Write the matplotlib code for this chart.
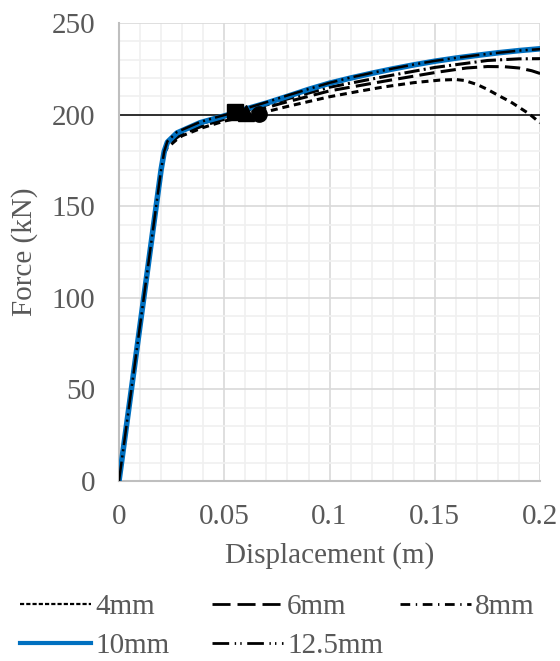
import matplotlib
matplotlib.use("Agg")
import matplotlib.pyplot as plt
from matplotlib.lines import Line2D

plt.rcParams['font.family'] = ['Liberation Serif', 'DejaVu Serif']
plt.rcParams['lines.scale_dashes'] = False

# data
x_10 = [0, 0.01, 0.02, 0.0215, 0.023, 0.0275, 0.0385, 0.0475, 0.055, 0.06, 0.07, 0.08, 0.09,
        0.1, 0.11, 0.12, 0.13, 0.14, 0.15, 0.16, 0.17, 0.18, 0.19, 0.2]
f_10 = [0, 85, 170, 180, 185, 190, 195.6, 198.5, 201, 203, 206.3, 210, 213.8,
        217.2, 220, 222.6, 225, 227.2, 229.2, 230.9, 232.4, 233.8, 235, 236]
f_125 = [0, 85, 170, 180, 185.5, 190.5, 196, 199, 201.3, 203.3, 206.8, 210.5, 214,
         217.4, 220.3, 222.8, 225.2, 227.4, 229.4, 231, 232.5, 233.8, 235, 235.8]

x_4 = [0, 0.01, 0.02, 0.0215, 0.023, 0.0275, 0.03, 0.04, 0.05, 0.06, 0.066, 0.08, 0.1,
       0.115, 0.126, 0.14, 0.1525, 0.16, 0.164, 0.17, 0.175, 0.18, 0.186, 0.195, 0.2]
f_4 = [0, 85, 170, 179, 182, 186.5, 188.5, 193, 196.5, 199, 200.5, 204.5, 209.8,
       213, 215.2, 217.5, 218.9, 219.2, 218.7, 216.5, 213.8, 210.6, 207, 200.3, 195.5]

x_6 = [0, 0.01, 0.02, 0.0215, 0.023, 0.0275, 0.03, 0.04, 0.05, 0.06, 0.0765, 0.1, 0.126,
       0.15, 0.165, 0.175, 0.183, 0.19, 0.196, 0.2]
f_6 = [0, 85, 170, 179.5, 183, 187.5, 189.5, 194, 197.5, 200.5, 206, 213, 218.3,
       223, 225.5, 226.3, 226.2, 225.5, 224, 222.5]

x_8 = [0, 0.01, 0.02, 0.0215, 0.023, 0.0275, 0.03, 0.04, 0.05, 0.06, 0.0765, 0.1, 0.126,
       0.15, 0.175, 0.19, 0.2]
f_8 = [0, 85, 170, 180, 184.5, 189.5, 191.5, 195.5, 198.7, 202, 207.5, 215, 220.8,
       225.8, 229.6, 230.5, 230.6]

# markers where the curves cross 200 kN
mark_x = [0.0551, 0.0605, 0.0665]
mark_f = [201.3, 201, 200.6]
mark_sym = ['s', '^', 'o']

x_ticks = [0, 0.05, 0.1, 0.15, 0.2]
x_labels = ['0', '0.05', '0.1', '0.15', '0.2']
y_ticks = [0, 50, 100, 150, 200, 250]

grey_txt = '#595959'
fs = 21

fig = plt.figure(figsize=(5.6, 6.61), dpi=100)
ax = fig.add_axes([0.2125, 0.2725, 0.752, 0.6925])

ax.set_xlim(0, 0.2)
ax.set_ylim(0, 250)
ax.set_xticks(x_ticks)
ax.set_xticklabels(x_labels)
ax.set_yticks(y_ticks)
ax.set_xticks([i * 0.01 for i in range(21)], minor=True)
ax.set_yticks(list(range(0, 251, 10)), minor=True)
ax.grid(which='minor', color='#f0f0f0', lw=1.2, zorder=0)
ax.grid(which='major', color='#d9d9d9', lw=1.2, zorder=0)
ax.tick_params(which='both', length=0, labelsize=fs, labelcolor=grey_txt)
ax.tick_params(axis='x', pad=17)
ax.tick_params(axis='y', pad=17)
for s in ['top', 'right']:
    ax.spines[s].set_visible(False)
for s in ['left', 'bottom']:
    ax.spines[s].set_color('#bfbfbf')
    ax.spines[s].set_linewidth(1.5)

ax.axhline(200, color='black', lw=1.1, zorder=2)

l4, = ax.plot(x_4, f_4, color='black', lw=2.2, dashes=(5, 3.5), zorder=3)
l6, = ax.plot(x_6, f_6, color='black', lw=2.2, dashes=(11, 4.5), zorder=3)
l8, = ax.plot(x_8, f_8, color='black', lw=2.2, dashes=(11, 3, 1.5, 3), zorder=3)
l10, = ax.plot(x_10, f_10, color='#0070c0', lw=4.0, zorder=4)
l125, = ax.plot(x_10, f_125, color='black', lw=1.8, dashes=(14, 3, 1.5, 3, 1.5, 3), zorder=5)

for mx, mf, ms in zip(mark_x, mark_f, mark_sym):
    ax.plot(mx, mf, marker=ms, color='black', markersize=11, zorder=6, ls='none')

ax.set_xlabel('Displacement (m)', fontsize=fs, color=grey_txt, labelpad=8)
ax.set_ylabel('Force (kN)', fontsize=fs, color=grey_txt, labelpad=10)

h4 = Line2D([], [], color='black', lw=1.6, dashes=(3, 1.5))
h6 = Line2D([], [], color='black', lw=2.0, dashes=(13, 5))
h8 = Line2D([], [], color='black', lw=2.0, dashes=(7, 4, 1, 4))
h10 = Line2D([], [], color='#0070c0', lw=3.0)
h125 = Line2D([], [], color='black', lw=2.0, dashes=(12, 4, 1, 3, 1, 4))

# one legend per column, like the reference layout
columns = [([h4, h10], ['4mm', '10mm'], 20),
           ([h6, h125], ['6mm', '12.5mm'], 212),
           ([h8], ['8mm'], 400)]
for handles, labels, xpx in columns:
    leg = fig.legend(handles, labels, loc='upper left', bbox_to_anchor=(xpx / 560, 1 - 594 / 661),
                     frameon=False, fontsize=fs, handlelength=2.45, handletextpad=0.13,
                     labelspacing=0.41, borderpad=0, borderaxespad=0)
    for t in leg.get_texts():
        t.set_color(grey_txt)

fig.savefig('out.png', dpi=100)
